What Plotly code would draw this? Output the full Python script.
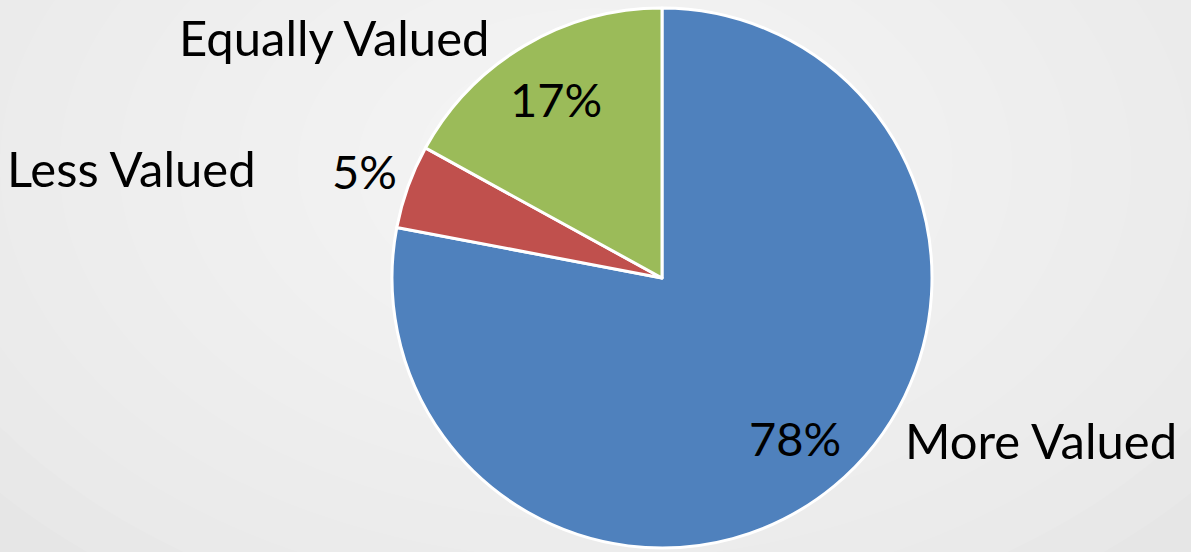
import math
import plotly.graph_objects as go

categories = ["More Valued", "Less Valued", "Equally Valued"]
values = [78, 5, 17]
colors = ["#4F81BD", "#C0504D", "#9BBB59"]
pct_inside = [True, False, True]

W, H = 1191, 552
FONT = "Lato"

# pie geometry in figure pixels
CX, CY, R = 662, 278, 270

fig = go.Figure()
fig.add_trace(go.Pie(
    labels=categories,
    values=values,
    sort=False,
    direction="clockwise",
    rotation=0,
    marker=dict(colors=colors, line=dict(color="white", width=3)),
    textinfo="none",
    showlegend=False,
    domain=dict(x=[(CX - R) / W, (CX + R) / W], y=[1 - (CY + R) / H, 1 - (CY - R) / H]),
    hoverinfo="label+percent",
))

# percentage labels, placed along each slice's mid-angle
total = sum(values)
cum = 0
for name, v, inside in zip(categories, values, pct_inside):
    theta = math.radians((cum + v / 2) / total * 360)
    cum += v
    k = 0.77 if inside else 1.17
    px = CX + k * R * math.sin(theta)
    py = CY - k * R * math.cos(theta)
    fig.add_annotation(
        x=px / W, y=1 - py / H, xref="paper", yref="paper",
        xanchor="center", yanchor="middle", showarrow=False,
        text=f"{round(v / total * 100)}%",
        font=dict(family=FONT, size=47, color="black"),
    )

# category labels placed like the original chart's data labels
label_pos = {
    "Equally Valued": (182, 37),
    "Less Valued": (10, 168),
    "More Valued": (908, 440),
}
for name in categories:
    lx, ly = label_pos[name]
    fig.add_annotation(
        x=(lx - 5) / W, y=1 - ly / H, xref="paper", yref="paper",
        xanchor="left", yanchor="middle", showarrow=False,
        text=name, font=dict(family=FONT, size=49, color="black"),
    )

# soft radial background
shapes = []
steps = 14
gx, gy = 0.5, 0.7
for i in range(steps):
    f = 1 - i / steps
    rx = 0.7 * f
    ry = 1.0 * f
    shapes.append(dict(
        type="circle", xref="paper", yref="paper", layer="below",
        x0=gx - rx, x1=gx + rx, y0=gy - ry, y1=gy + ry,
        fillcolor="rgba(255,255,255,0.085)", line=dict(width=0),
    ))

fig.update_layout(
    width=W, height=H,
    margin=dict(l=0, r=0, t=0, b=0),
    paper_bgcolor="#e4e4e4",
    plot_bgcolor="rgba(0,0,0,0)",
    shapes=shapes,
)

fig.write_html(
    "out.html",
    config={"displayModeBar": False},
    post_script="document.body.style.margin='0';document.body.style.background='#e4e4e4';",
)
